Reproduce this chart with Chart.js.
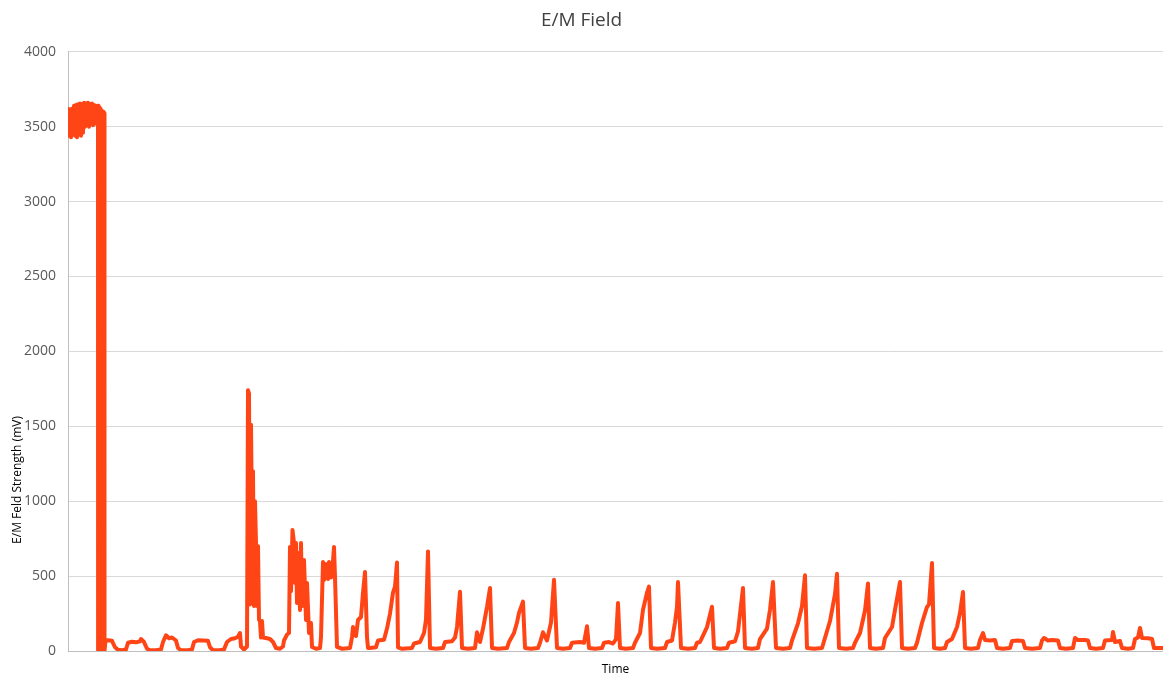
<!DOCTYPE html>
<html>
<head>
<meta charset="utf-8">
<script src="https://cdn.jsdelivr.net/npm/chart.js@4/dist/chart.umd.min.js"></script>
<style>
  html, body { margin: 0; padding: 0; background: #ffffff; }
  #wrap { width: 1163px; height: 678px; position: relative; }
</style>
</head>
<body>
<div id="wrap"><canvas id="c" width="1163" height="678"></canvas></div>
<script>
// ---- Data (time in sample units, field in mV) ----
const chartTitle = 'E/M Field';
const xAxisTitle = 'Time';
const yAxisTitle = 'E/M Feld Strength (mV)';
const yTickValues = [0, 500, 1000, 1500, 2000, 2500, 3000, 3500, 4000];
const timeMax = 1095;

// Dense oscillation at the switch-off moment (time, [min mV, max mV])
const dropTime = 33;
const dropRange = [0, 3600];

const times = [
  0,1,2,3,4,5,6,7,8,9,10,11,12,13,14,15,16,17,18,19,20,21,22,23,24,25,26,27,28,29,
  30,30.5,31,31.5,32,32.5,33,33.5,34,34.5,35,35.5,36,36.5,37.5,
  40,44,47,50,54,58,60,64,68,72,73,76,79,82,88,93,95,98,101,104,108,110,113,120,124,126,130,135,140,142,145,152,156,159,163,167,170,172,173,176,179,
  180,181,182,183,184,185,186,187,188,189,190,191,192,193,194,195,199,202,205,208,212,215,216,219,221,
  222,223,224.5,226,227,228,229,230,232,233,234,236,238,239,241,243,244,248,252,
  253,255,256,258,260,261,263,265,266,267,269,274,282,
  284,285,288,290,293,295,297,299,300,302,308,310,316,319,322,325,327,329,330,334,344,
  346,352,356,358,360,362,368,375,377,384,387,389,392,394,400,407,409,412,415,419,422,424,430,439,
  441,446,449,451,455,457,463,470,472,475,479,483,486,489,495,502,504,512,516,519,521,527,534,
  536,541,545,548,550,552,558,565,567,572,575,579,581,583,589,597,599,604,607,609,610,613,620,627,
  629,632,639,644,646,652,659,661,667,670,675,677,684,690,692,699,702,705,708,715,722,
  724,730,734,737,739,746,754,756,762,767,769,771,778,785,787,792,797,800,802,808,815,
  817,824,827,832,834,840,847,849,854,859,861,864,866,872,877,879,884,889,892,895,897,903,910,
  912,915,917,922,927,929,935,942,944,950,955,957,964,972,974,976,980,984,990,992,998,1005,
  1007,1010,1017,1020,1022,1028,1035,1037,1044,1045,1047,1052,1054,1060,1065,1067,1070,1072,1074,1080,1084,1086,1095
];

const fieldStrength = [
  3620,3440,3615,3430,3620,3450,3640,3440,3645,3430,3650,3450,3655,3440,3650,3460,3660,3500,3655,3510,3660,3500,3650,3520,3655,3510,3645,3520,3640,3530,
  3640,0,3630,0,3620,0,3610,0,3600,0,3600,0,3590,0,70,
  72,68,25,8,5,10,55,62,58,65,80,60,15,5,5,10,60,105,85,90,70,20,5,5,10,60,72,70,68,25,5,5,10,60,80,85,95,120,30,10,30,
  1740,1720,310,1510,830,1200,300,1000,720,300,700,210,200,90,200,90,85,80,60,20,15,30,70,110,120,
  695,400,808,721,454,721,320,654,274,721,300,608,207,454,120,187,27,15,20,
  93,594,474,580,480,594,490,600,695,494,27,15,20,
  93,160,100,207,227,387,527,93,20,20,25,70,75,150,250,390,430,590,25,15,20,
  50,60,120,210,665,20,15,20,60,65,90,160,395,20,15,20,125,60,150,295,420,20,15,20,
  60,120,190,255,330,20,15,20,55,125,70,190,475,20,15,20,55,60,55,165,20,15,20,
  55,60,50,80,320,20,15,20,55,120,275,390,430,20,15,20,60,70,190,295,460,20,15,20,
  55,60,160,295,20,15,20,55,65,130,420,20,15,20,80,150,275,460,20,15,20,
  70,185,300,505,20,15,20,65,200,380,515,20,15,20,55,120,270,450,20,15,20,
  87,160,274,460,20,15,20,55,187,294,310,587,20,15,20,60,80,160,254,394,20,15,20,
  73,120,73,70,73,20,15,20,67,70,67,20,15,20,70,87,70,73,70,20,15,20,
  87,73,73,70,20,15,20,70,73,127,60,67,20,15,20,80,90,154,87,85,80,20,20
];

const points = times.map((t, i) => ({ x: t, y: fieldStrength[i] }));

const FONT = '"Open Sans", "Liberation Sans", sans-serif';
const LINE_COLOR = '#FF4516';

const yTitlePlugin = {
  id: 'yTitlePlugin',
  afterDraw(chart) {
    const ctx = chart.ctx;
    ctx.save();
    ctx.translate(18, 480);
    ctx.rotate(-Math.PI / 2);
    ctx.font = '12px ' + FONT;
    ctx.fillStyle = '#000000';
    ctx.textAlign = 'center';
    ctx.textBaseline = 'middle';
    ctx.fillText(yAxisTitle, 0, 0);
    ctx.restore();
  }
};

new Chart(document.getElementById('c'), {
  type: 'line',
  data: {
    datasets: [{
      type: 'line',
      label: 'E/M Field',
      data: points,
      borderColor: LINE_COLOR,
      backgroundColor: LINE_COLOR,
      borderWidth: 4,
      pointRadius: 0,
      tension: 0,
      fill: false,
      borderJoinStyle: 'round',
      borderCapStyle: 'round',
      order: 1
    }, {
      type: 'bar',
      label: 'oscillation band',
      data: [{ x: dropTime, y: dropRange }],
      backgroundColor: LINE_COLOR,
      borderWidth: 0,
      barThickness: 9,
      order: 2
    }]
  },
  options: {
    responsive: false,
    animation: false,
    devicePixelRatio: 1,
    layout: { padding: { left: 0, right: 0, top: 0, bottom: 0 } },
    plugins: {
      legend: { display: false },
      tooltip: { enabled: false },
      title: {
        display: true,
        text: chartTitle,
        color: '#404040',
        font: { family: FONT, size: 19, weight: 'normal' },
        padding: { top: 9, bottom: 20 }
      }
    },
    scales: {
      x: {
        type: 'linear',
        min: 0,
        max: timeMax,
        offset: false,
        ticks: { display: false },
        grid: { display: false, drawTicks: false, offset: false },
        border: { display: true, color: '#BFBFBF', width: 1 },
        title: {
          display: true,
          text: xAxisTitle,
          color: '#000000',
          font: { family: FONT, size: 12 },
          padding: { top: 0, bottom: 1 }
        },
        afterFit(scale) { scale.height = 27; }
      },
      y: {
        type: 'linear',
        min: 0,
        max: 4000,
        afterBuildTicks(scale) { scale.ticks = yTickValues.map(v => ({ value: v })); },
        ticks: {
          color: '#595959',
          font: { family: FONT, size: 14 },
          padding: 12,
          callback: (v) => String(v)
        },
        grid: { color: '#D9D9D9', drawTicks: false, tickLength: 0 },
        border: { display: true, color: '#BFBFBF', width: 1 },
        afterFit(scale) { scale.width = 68; }
      }
    }
  },
  plugins: [yTitlePlugin]
});
</script>
</body>
</html>
